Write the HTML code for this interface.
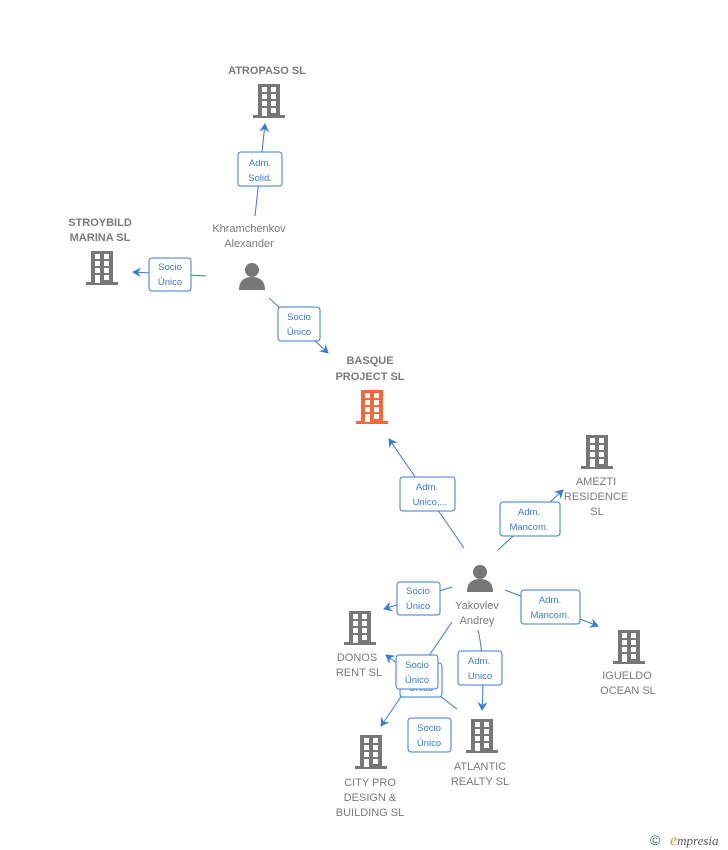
<!DOCTYPE html>
<html><head><meta charset="utf-8"><style>
html,body{margin:0;padding:0;background:#fff;width:728px;height:850px;overflow:hidden}
svg{display:block}
.n{font-family:"Liberation Sans",sans-serif;font-size:11px;fill:#7a7a7a;text-anchor:middle}
.nb{font-weight:bold}
.l{font-family:"Liberation Sans",sans-serif;font-size:9.5px;fill:#3a7bd5;text-anchor:middle}
.e{stroke:#3a7bd5;stroke-width:1;fill:none}
.bx{fill:#fff;stroke:#3a7bd5;stroke-width:1}
</style></head><body>
<svg width="728" height="850" viewBox="0 0 728 850" xmlns="http://www.w3.org/2000/svg">
<defs>
<marker id="a" markerWidth="10" markerHeight="10" refX="8" refY="5" orient="auto" markerUnits="userSpaceOnUse"><path d="M0,0 L9,5 L0,10 L3,5 Z" fill="#3a7bd5"/></marker>
<symbol id="b" viewBox="0 0 32 34"><rect x="5" y="0" width="22" height="32" fill="currentColor"/><rect x="0" y="31" width="32" height="3" fill="currentColor"/><g fill="#fff"><rect x="9" y="3" width="5" height="5"/><rect x="18" y="3" width="5" height="5"/><rect x="9" y="10" width="5" height="5"/><rect x="18" y="10" width="5" height="5"/><rect x="9" y="17" width="5" height="5"/><rect x="18" y="17" width="5" height="5"/><rect x="9" y="24" width="5" height="8"/><rect x="18" y="24" width="5" height="5"/></g></symbol>
<symbol id="p" viewBox="0 0 30 30"><circle cx="15" cy="9" r="7" fill="#777"/><path d="M2,29 C2,19 8,16 15,16 C22,16 28,19 28,29 Z" fill="#777"/></symbol>
</defs>
<!-- edges -->
<line class="e" x1="255" y1="216" x2="265" y2="124" marker-end="url(#a)"/>
<line class="e" x1="206" y1="276" x2="133" y2="272" marker-end="url(#a)"/>
<line class="e" x1="269" y1="298" x2="328" y2="353" marker-end="url(#a)"/>
<line class="e" x1="464" y1="548" x2="389" y2="439" marker-end="url(#a)"/>
<line class="e" x1="498" y1="550" x2="563" y2="490" marker-end="url(#a)"/>
<line class="e" x1="505" y1="590" x2="598" y2="626" marker-end="url(#a)"/>
<line class="e" x1="452" y1="587" x2="384" y2="609" marker-end="url(#a)"/>
<path class="e" d="M478,630 Q485,660 482,710" marker-end="url(#a)"/>
<line class="e" x1="452" y1="622" x2="381" y2="726" marker-end="url(#a)"/>
<line class="e" x1="457" y1="709" x2="386" y2="655" marker-end="url(#a)"/>
<!-- labels -->
<rect class="bx" x="238" y="152" width="44" height="34" rx="3"/><text class="l" x="260" y="166">Adm.</text><text class="l" x="260" y="181">Solid.</text>
<rect class="bx" x="149" y="258" width="42" height="33" rx="3"/><text class="l" x="170" y="270">Socio</text><text class="l" x="170" y="285">Único</text>
<rect class="bx" x="278" y="307" width="42" height="34" rx="3"/><text class="l" x="299" y="320">Socio</text><text class="l" x="299" y="335">Único</text>
<rect class="bx" x="400" y="477" width="55" height="34" rx="3"/><text class="l" x="427" y="490">Adm.</text><text class="l" x="430" y="505">Unico,...</text>
<rect class="bx" x="500" y="502" width="60" height="34" rx="3"/><text class="l" x="529" y="515">Adm.</text><text class="l" x="529" y="530">Mancom.</text>
<rect class="bx" x="521" y="590" width="59" height="34" rx="3"/><text class="l" x="550" y="603">Adm.</text><text class="l" x="550" y="618">Mancom.</text>
<rect class="bx" x="397" y="582" width="43" height="33" rx="3"/><text class="l" x="418" y="594">Socio</text><text class="l" x="418" y="609">Único</text>
<rect class="bx" x="458" y="651" width="44" height="34" rx="3"/><text class="l" x="479" y="664">Adm.</text><text class="l" x="480" y="679">Unico</text>
<rect class="bx" x="400" y="663" width="42" height="34" rx="3"/><text class="l" x="421" y="691">Único</text>
<rect class="bx" x="396" y="655" width="42" height="34" rx="3"/><text class="l" x="417" y="668">Socio</text><text class="l" x="417" y="683">Único</text>
<rect class="bx" x="408" y="718" width="43" height="34" rx="3"/><text class="l" x="429" y="731">Socio</text><text class="l" x="429" y="746">Único</text>
<!-- nodes -->
<text class="n nb" x="267" y="74">ATROPASO SL</text>
<use href="#b" x="253" y="84" width="32" height="34" style="color:#777"/>
<text class="n nb" x="100" y="226">STROYBILD</text><text class="n nb" x="100" y="241">MARINA  SL</text>
<use href="#b" x="86" y="251" width="32" height="34" style="color:#777"/>
<text class="n" x="249" y="232">Khramchenkov</text><text class="n" x="249" y="247">Alexander</text>
<use href="#p" x="237" y="261" width="30" height="30"/>
<text class="n nb" x="370" y="364">BASQUE</text><text class="n nb" x="370" y="380">PROJECT  SL</text>
<use href="#b" x="356" y="390" width="32" height="34" style="color:#f26a3a"/>
<use href="#b" x="581" y="435" width="32" height="34" style="color:#777"/>
<text class="n" x="596" y="485">AMEZTI</text><text class="n" x="596" y="500">RESIDENCE</text><text class="n" x="597" y="515">SL</text>
<use href="#p" x="465" y="563" width="30" height="30"/>
<text class="n" x="477" y="609">Yakovlev</text><text class="n" x="477" y="624">Andrey</text>
<use href="#b" x="344" y="611" width="32" height="34" style="color:#777"/>
<text class="n" x="357" y="661">DONOS</text><text class="n" x="359" y="676">RENT  SL</text>
<use href="#b" x="613" y="630" width="32" height="34" style="color:#777"/>
<text class="n" x="627" y="679">IGUELDO</text><text class="n" x="628" y="694">OCEAN  SL</text>
<use href="#b" x="466" y="719" width="32" height="34" style="color:#777"/>
<text class="n" x="480" y="770">ATLANTIC</text><text class="n" x="480" y="785">REALTY SL</text>
<use href="#b" x="355" y="735" width="32" height="34" style="color:#777"/>
<text class="n" x="370" y="786">CITY PRO</text><text class="n" x="370" y="801">DESIGN &amp;</text><text class="n" x="370" y="816">BUILDING  SL</text>
<text x="650" y="845" style="font-family:'Liberation Sans',sans-serif;font-size:14px;fill:#1a6f8a">©</text>
<text x="670" y="845" style="font-family:'Liberation Serif',serif;font-style:italic;font-size:13px;fill:#555"><tspan fill="#f08a1a" font-size="16">e</tspan>mpresia</text>
</svg>
</body></html>
